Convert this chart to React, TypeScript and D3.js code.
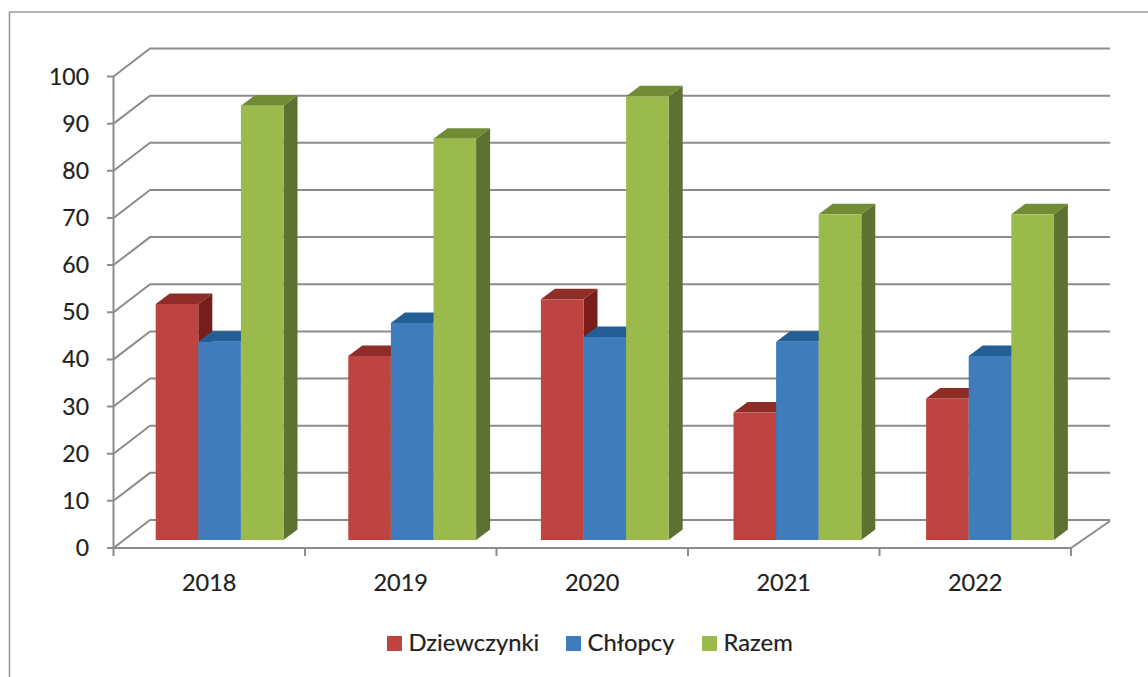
import React from "react";
import * as d3 from "d3";

const categories = ["2018", "2019", "2020", "2021", "2022"];
const seriesNames = ["Dziewczynki", "Chłopcy", "Razem"];
const dziewczynki = [50, 39, 51, 27, 30];
const chlopcy = [42, 46, 43, 42, 39];
const razem = [92, 85, 94, 69, 69];
const yTicks = [0, 10, 20, 30, 40, 50, 60, 70, 80, 90, 100];
const seriesValues = [dziewczynki, chlopcy, razem];
const frontColors = ["#BE4441", "#3E7CBC", "#9BBA4C"];
const topColors = ["#8E2D27", "#235F96", "#728C36"];
const sideColors = ["#771E1A", "#1F4F7E", "#5D7130"];
const legendX = [387, 566, 702];

const GRID = "#8C8C8C";
const TEXT = "#231F20";
const FONT = "Lato, 'Open Sans', sans-serif";
const textStroke = { stroke: TEXT, strokeWidth: 0.2 };

export default function App() {
  const x = d3.scaleBand<string>().domain(categories).range([113.5, 1071]);
  const barX = d3.scaleBand<string>().domain(categories).range([113.5, 1076.5]);
  const y = d3.scaleLinear().domain([0, 100]).range([548, 76.5]);
  const barY = d3.scaleLinear().domain([0, 100]).range([540, 68]);
  const dx = 36.5, dy = -28, sx = 14, sy = -10.5;
  const barW = 42.6;
  const line = d3.line();
  return (
    <svg width={1148} height={677} style={{ position: "fixed", left: 0, top: 0, background: "#fff" }}>
      <path d="M9.5,677V12H1148" fill="none" stroke="#9A9A9A" strokeWidth={1.6} />
      {yTicks.map((t) => (
        <g key={t}>
          <path
            d={line([[107, y(t)], [x.range()[0], y(t)], [x.range()[0] + dx, y(t) + dy], [1110, y(t) + dy]])!}
            fill="none" stroke={GRID} strokeWidth={2}
          />
          <text x={89} y={y(t) + 8} textAnchor="end" fontFamily={FONT} fontSize={23} fill={TEXT} {...textStroke}>{t}</text>
        </g>
      ))}
      <path d={line([[113.5, 76.5], [113.5, 548], [1071, 548], [1110, 521]])!} fill="none" stroke={GRID} strokeWidth={2} />
      {[...categories.map((c) => x(c)!), x.range()[1]].map((p, i) => (
        <line key={i} x1={p} x2={p} y1={548} y2={556} stroke={GRID} strokeWidth={2} />
      ))}
      {categories.map((c, i) => {
        const x0 = barX(c)! + 42.2;
        return (
          <g key={c}>
            {[0, 1, 2].map((s) => {
              const l = x0 + s * barW, r = l + barW, t = barY(seriesValues[s][i]), b = barY(0);
              return (
                <g key={s}>
                  <path d={line([[r, t], [r + sx, t + sy], [r + sx, b + sy], [r, b]])! + "Z"} fill={sideColors[s]} />
                  <path d={line([[l, t], [l + sx, t + sy], [r + sx, t + sy], [r, t]])! + "Z"} fill={topColors[s]} />
                  <rect x={l} y={t} width={r - l} height={b - t} fill={frontColors[s]} />
                </g>
              );
            })}
            <text x={x(c)! + x.bandwidth() / 2} y={591} textAnchor="middle" fontFamily={FONT} fontSize={23.5} fill={TEXT} {...textStroke}>{c}</text>
          </g>
        );
      })}
      {seriesNames.map((n, i) => (
        <g key={n}>
          <rect x={legendX[i]} y={636} width={15} height={15} fill={frontColors[i]} />
          <text x={legendX[i] + 21.5} y={651} fontFamily={FONT} fontSize={23.8} fill={TEXT} {...textStroke}>{n}</text>
        </g>
      ))}
    </svg>
  );
}
